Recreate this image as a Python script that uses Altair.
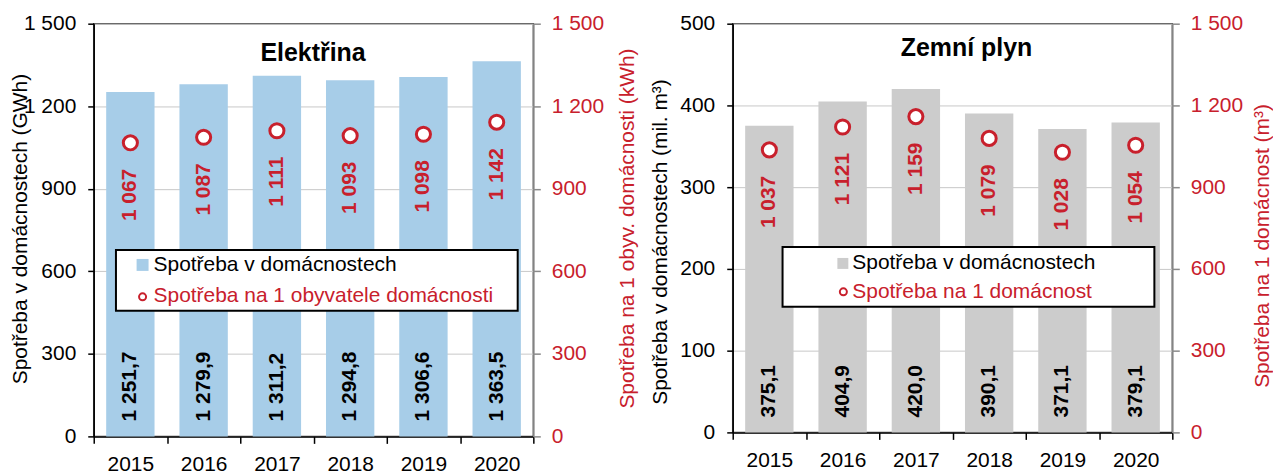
import altair as alt
import pandas as pd

years = ["2015", "2016", "2017", "2018", "2019", "2020"]
el_total = [1251.7, 1279.9, 1311.2, 1294.8, 1306.6, 1363.5]
el_per = [1067, 1087, 1111, 1093, 1098, 1142]
gas_total = [375.1, 404.9, 420.0, 390.1, 371.1, 379.1]
gas_per = [1037, 1121, 1159, 1079, 1028, 1054]

RED = "#c8202c"
BLUE = "#a7cde8"
GRAY = "#cccccc"
FONT = "Liberation Sans"
FS = 21
THOUS = "replace(format(datum.value, ','), ',', ' ')"


def panel(total, per, bar_color, w, h, ymax, ystep, left_title, right_title,
          title, title_pos, ltx, lty, rtx, rty, legend):
    df = pd.DataFrame({"year": years, "total": total, "per": per})
    base = alt.Chart(df).transform_calculate(
        total_lbl="replace(replace(format(datum.total, ',.1f'), ',', ' '), '.', ',')",
        per_lbl="replace(format(datum.per, ',d'), ',', ' ')",
        zero="0",
    )
    x = alt.X(
        "year:N", sort=years, title=None,
        scale=alt.Scale(paddingInner=0, paddingOuter=0),
        axis=alt.Axis(labelAngle=0, labelFontSize=FS, labelColor="black",
                      labelPadding=10, tickBand="extent", tickSize=7,
                      tickColor="black", tickWidth=1.5, domainColor="black",
                      domainWidth=1.5, grid=False),
    )
    yl_axis = alt.Axis(
        orient="left", values=list(range(0, ymax + 1, ystep)), labelExpr=THOUS,
        labelFontSize=FS, labelColor="black", labelPadding=12, tickSize=6,
        tickColor="black", tickWidth=1.5, domainColor="black", domainWidth=1.5,
        grid=True, gridColor="#c8c8c8", gridWidth=1,
        title=left_title, titleFontSize=FS, titleFontWeight="normal",
        titleColor="black", titleAngle=270, titleX=ltx, titleY=lty,
        titleBaseline="alphabetic", titleAlign="center",
    )
    yr_axis = alt.Axis(
        orient="right", values=list(range(0, 1501, 300)), labelExpr=THOUS,
        labelFontSize=FS, labelColor=RED, labelPadding=11, tickSize=7,
        tickColor="#8a8a8a", tickWidth=1.5, domainColor="#8a8a8a", domainWidth=1.5,
        grid=False, title=right_title, titleFontSize=FS, titleFontWeight="normal",
        titleColor=RED, titleAngle=270, titleX=rtx, titleY=rty,
        titleBaseline="alphabetic", titleAlign="center",
    )
    yl_scale = alt.Scale(domain=[0, ymax], nice=False)
    yr_scale = alt.Scale(domain=[0, 1500], nice=False)

    bars = base.mark_bar(color=bar_color, width=alt.RelativeBandSize(0.66)).encode(
        x=x, y=alt.Y("total:Q", scale=yl_scale, axis=yl_axis))
    bar_lbl = base.mark_text(angle=270, align="left", baseline="middle", dx=15,
                             fontSize=FS, fontWeight="bold", color="black").encode(
        x=x, y=alt.Y("zero:Q", scale=yl_scale, axis=yl_axis), text="total_lbl:N")
    pts = base.mark_circle(fill="white", stroke=RED, strokeWidth=3, size=200,
                           opacity=1).encode(
        x=x, y=alt.Y("per:Q", scale=yr_scale, axis=yr_axis))
    pt_lbl = base.mark_text(angle=270, align="right", baseline="middle", dx=-26,
                            fontSize=FS, fontWeight="bold", color=RED).encode(
        x=x, y=alt.Y("per:Q", scale=yr_scale, axis=yr_axis), text="per_lbl:N")

    one = alt.Data(values=[{"k": 1}])
    (bx1, bx2, by1, by2, sx1, sx2, sy1, sy2, tx, r1, r2, cx, cy, lab1, lab2) = legend
    box = alt.Chart(one).mark_rect(fill="white", stroke="black", strokeWidth=2).encode(
        x=alt.value(bx1), x2=alt.value(bx2), y=alt.value(by1), y2=alt.value(by2))
    sq = alt.Chart(one).mark_rect(fill=bar_color).encode(
        x=alt.value(sx1), x2=alt.value(sx2), y=alt.value(sy1), y2=alt.value(sy2))
    t1 = alt.Chart(one).mark_text(align="left", baseline="middle", fontSize=FS,
                                  color="black", text=lab1).encode(
        x=alt.value(tx), y=alt.value(r1))
    t2 = alt.Chart(one).mark_text(align="left", baseline="middle", fontSize=FS,
                                  color=RED, text=lab2).encode(
        x=alt.value(tx), y=alt.value(r2))
    cir = alt.Chart(one).mark_point(shape="circle", fill="white", filled=True,
                                    stroke=RED, strokeWidth=2, size=50,
                                    opacity=1).encode(
        x=alt.value(cx), y=alt.value(cy))
    ttl = alt.Chart(one).mark_text(align="center", baseline="alphabetic",
                                   fontSize=25, fontWeight="bold", color="black",
                                   text=title).encode(
        x=alt.value(title_pos[0]), y=alt.value(title_pos[1]))

    return alt.layer(
        alt.layer(bars, bar_lbl),
        alt.layer(pts, pt_lbl),
        box, sq, t1, t2, cir, ttl,
    ).resolve_scale(y="independent").properties(width=w, height=h)


left = panel(
    el_total, el_per, BLUE, 441, 414, 1500, 300,
    "Spotřeba v domácnostech (GWh)",
    "Spotřeba na 1 obyv. domácnosti (kWh)",
    "Elektřina", (220, 37), -67.5, 205.5, 100, 205,
    (22.3, 425.3, 227, 288, 43, 55, 236, 248, 60, 242, 273.5, 49, 274,
     "Spotřeba v domácnostech", "Spotřeba na 1 obyvatele domácnosti"),
)
right = panel(
    gas_total, gas_per, GRAY, 441, 410, 500, 100,
    "Spotřeba v domácnostech (mil. m³)",
    "Spotřeba na 1 domácnost (m³)",
    "Zemní plyn", (234.5, 32), -66, 218.5, 96, 222.5,
    (50, 423, 224, 284, 105, 116, 235, 246, 120, 240.5, 269, 111, 269,
     "Spotřeba v domácnostech", "Spotřeba na 1 domácnost"),
)

chart = alt.hconcat(left, right, spacing=11).properties(
    padding={"left": 0, "top": 3, "right": 0, "bottom": 0}
).configure(font=FONT).configure_view(stroke="#404040", strokeWidth=1.5)

chart.save("out.html", embed_options={"renderer": "svg", "actions": False})
